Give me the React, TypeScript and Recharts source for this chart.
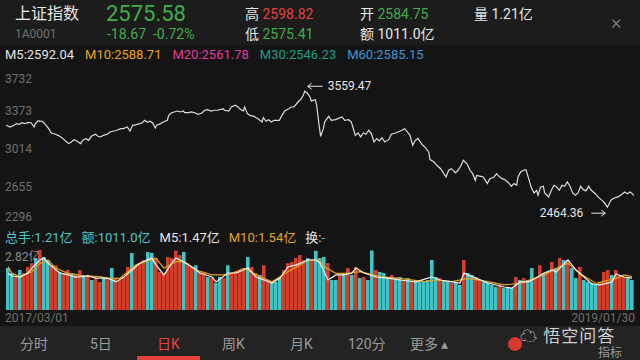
import React from "react";
import { Bar, Cell, ComposedChart, Line, LineChart, ReferenceDot, XAxis, YAxis } from "recharts";

// 上证指数 daily close, 2017/03/01 – 2019/01/30 (trading-day index, close)
const priceDay = [
  0, 3, 6, 8, 10, 12, 14, 17, 19, 21, 22, 24, 27, 29, 32, 34, 37, 39, 42, 44,
  47, 49, 51, 53, 56, 58, 60, 62, 64, 67, 69, 71, 73, 76, 78, 81, 83, 86, 88, 91,
  93, 95, 98, 100, 102, 104, 106, 108, 110, 112, 113, 116, 118, 121, 122, 124, 126, 129, 131, 133,
  134, 137, 139, 142, 144, 147, 149, 151, 154, 156, 159, 161, 163, 164, 167, 169, 172, 174, 176, 178,
  179, 181, 183, 186, 188, 190, 192, 193, 195, 197, 199, 201, 203, 205, 207, 209, 212, 214, 216, 219,
  221, 223, 224, 226, 228, 229, 232, 233, 235, 236, 238, 239, 242, 244, 247, 249, 252, 254, 257, 259,
  262, 264, 266, 268, 270, 272, 274, 276, 278, 280, 282, 284, 287, 289, 292, 294, 297, 299, 301, 303,
  305, 307, 309, 312, 314, 317, 318, 321, 323, 326, 328, 330, 332, 334, 337, 339, 341, 343, 346, 348,
  350, 352, 353, 356, 358, 361, 363, 366, 368, 369, 372, 374, 377, 379, 381, 383, 384, 386, 388, 390,
  392, 394, 396, 398, 399, 401, 403, 404, 407, 409, 411, 413, 415, 417, 419, 421, 423, 425, 427, 429,
  431, 433, 435, 437, 439, 442, 444, 447, 449, 451, 453, 454, 457, 459, 462, 464, 466, 468, 469, 471,
];
const priceClose = [
  3238, 3222, 3238, 3254, 3247, 3263, 3254, 3266, 3260, 3222, 3254, 3279, 3276, 3254, 3206, 3165, 3153, 3143, 3121, 3096,
  3065, 3080, 3102, 3090, 3065, 3102, 3112, 3096, 3134, 3153, 3134, 3128, 3143, 3153, 3175, 3184, 3191, 3206, 3206, 3222,
  3184, 3238, 3244, 3254, 3260, 3285, 3266, 3276, 3260, 3213, 3238, 3254, 3269, 3285, 3332, 3354, 3364, 3373, 3364, 3373,
  3357, 3357, 3364, 3354, 3342, 3354, 3380, 3386, 3373, 3380, 3380, 3389, 3392, 3380, 3373, 3411, 3427, 3411, 3386, 3373,
  3411, 3348, 3332, 3323, 3307, 3291, 3269, 3310, 3276, 3291, 3269, 3285, 3285, 3285, 3332, 3373, 3395, 3411, 3411, 3458,
  3483, 3521, 3559.47, 3543, 3505, 3468, 3480, 3427, 3222, 3134, 3206, 3269, 3323, 3285, 3291, 3301, 3317, 3285, 3291, 3269,
  3143, 3165, 3128, 3165, 3153, 3191, 3159, 3080, 3112, 3090, 3121, 3080, 3102, 3153, 3165, 3175, 3191, 3206, 3175, 3143,
  3049, 3096, 3112, 3058, 3033, 2986, 2914, 2891, 2860, 2828, 2788, 2750, 2813, 2828, 2788, 2813, 2851, 2907, 2869, 2813,
  2781, 2718, 2765, 2756, 2750, 2687, 2734, 2750, 2781, 2765, 2734, 2725, 2693, 2662, 2687, 2671, 2750, 2797, 2813, 2819,
  2734, 2649, 2599, 2624, 2577, 2655, 2662, 2599, 2561, 2624, 2671, 2655, 2624, 2671, 2662, 2703, 2662, 2599, 2577, 2599,
  2662, 2630, 2618, 2662, 2624, 2592, 2561, 2529, 2504, 2464.36, 2514, 2536, 2555, 2561, 2586, 2608, 2592, 2608, 2599, 2575.58,
];
const priceTicks = [3732, 3373, 3014, 2655, 2296];

// 成交量 (亿手), one bar per slot, r = 涨 / g = 跌
const volume = [
  1.97, 1.74, 1.55, 1.88, 1.74, 2.02, 2.2, 2.44, 2.82, 2.49, 2.35, 2.1, 2.1, 1.79, 1.74, 1.88, 1.74, 1.65, 1.88, 1.55, 1.65, 1.41, 1.5, 1.32, 1.55, 1.5,
  1.97, 1.5, 1.41, 1.55, 2.02, 2.68, 2.1, 2.2, 2.35, 2.73, 2.68, 2.44, 1.79, 1.74, 2.49, 2.44, 2.79, 2.58, 2.73, 2.2, 2.02, 2.1, 1.79, 1.74, 1.55, 1.5,
  1.27, 1.55, 1.5, 2.1, 1.74, 1.79, 1.88, 1.97, 2.49, 2.02, 1.74, 1.65, 2.1, 1.41, 1.27, 1.32, 1.55, 1.88, 2.2, 2.26, 2.44, 2.58, 2.35, 2.44, 2.35, 2.78,
  2.44, 2.49, 2.2, 1.41, 1.41, 1.65, 1.74, 1.97, 1.65, 2.02, 1.5, 1.55, 1.41, 2.8, 1.88, 1.79, 1.74, 1.55, 1.65, 1.5, 1.55, 1.41, 1.5, 1.32, 1.41, 1.32,
  1.32, 1.41, 2.35, 1.55, 1.5, 1.41, 1.32, 1.27, 1.32, 1.18, 2.35, 1.74, 1.65, 1.55, 1.41, 1.32, 1.27, 1.18, 1.08, 1.18, 1.03, 1.08, 1.03, 1.55, 1.41, 1.5,
  1.41, 1.97, 1.5, 2.1, 1.74, 1.79, 2.26, 1.97, 2.44, 2.35, 2.35, 1.97, 1.5, 2.02, 1.41, 1.32, 1.27, 1.18, 1.32, 1.79, 1.88, 1.65, 1.88, 1.65, 1.55, 1.5, 1.41,
];
const volumeSide =
  "ggrgrrrgrggrrgrrgrrgrgrrgr" +
  "grrrrgrrrggrrrrrrrgrrgrrgr" +
  "ggrgrrrrgrrgrrgggrrrrrrgrg" +
  "ggrggrgrgrgrggrgggrggrgrgg" +
  "ggggrggrggrggrrggggrgggrgr" +
  "ggrrgrrgrgrggrggggrrrgrrrgg";

// volume moving averages read at [bar slot, value]
const volM5: [number, number][] = [
  [0, 1.72], [1, 1.61], [3, 1.55], [5, 1.74], [6, 1.97], [8, 2.35], [9, 2.44], [10, 2.21], [12, 1.88], [13, 1.74],
  [15, 1.65], [17, 1.55], [20, 1.6], [22, 1.5], [25, 1.5], [27, 1.32], [29, 1.55], [31, 1.88], [33, 2.21], [36, 2.44],
  [37, 2.12], [39, 1.65], [41, 2.21], [42, 2.44], [44, 2.26], [46, 2.02], [48, 1.74], [51, 1.55], [52, 1.32], [55, 1.74],
  [57, 1.74], [60, 1.97], [62, 1.55], [64, 1.41], [66, 1.27], [68, 1.5], [70, 2.02], [72, 2.12], [75, 2.35], [77, 2.35],
  [78, 2.21], [80, 1.41], [82, 1.65], [84, 1.65], [86, 1.74], [87, 1.97], [89, 1.74], [92, 1.55], [95, 1.5], [98, 1.41],
  [102, 1.32], [105, 1.5], [106, 1.55], [108, 1.41], [111, 1.32], [113, 1.27], [114, 1.74], [115, 1.65], [117, 1.5], [120, 1.27],
  [124, 1.08], [126, 1.03], [128, 1.32], [130, 1.32], [132, 1.5], [134, 1.74], [136, 1.88], [137, 1.79], [140, 2.35], [142, 1.88],
  [144, 1.55], [146, 1.22], [148, 1.18], [151, 1.32], [152, 1.69], [154, 1.55], [156, 1.5],
];
const volM10: [number, number][] = [
  [0, 2.04], [1, 1.72], [3, 1.57], [6, 1.8], [8, 2.19], [10, 2.35], [12, 1.96], [15, 1.72], [19, 1.61], [23, 1.57],
  [25, 1.49], [28, 1.49], [32, 2.12], [37, 2.43], [39, 1.96], [42, 2.27], [44, 2.27], [47, 1.88], [51, 1.65], [55, 1.65],
  [59, 1.96], [63, 1.57], [66, 1.33], [70, 1.8], [73, 2.12], [75, 2.35], [78, 2.35], [79, 2.04], [82, 1.72], [85, 1.72],
  [88, 1.8], [93, 1.57], [98, 1.49], [104, 1.33], [107, 1.41], [111, 1.33], [115, 1.49], [120, 1.33], [124, 1.18], [128, 1.25],
  [134, 1.65], [138, 2.04], [140, 2.19], [143, 1.72], [147, 1.25], [152, 1.49], [154, 1.65], [156, 1.57],
];

const C = {
  bg: "#141414",
  head: "#1c1c1c",
  tab: "#232323",
  white: "#e6e6e6",
  gray: "#707070",
  green: "#3fae49",
  red: "#e5423a",
  orange: "#e8a21c",
  magenta: "#e03c9e",
  teal: "#1f9e86",
  blue: "#3b97d6",
  cyan: "#4cc6c8",
  up: "#d2402d",
  down: "#44c3c5",
};

const priceData = priceDay.map((t, i) => ({ t, close: priceClose[i] }));

const volData = volume.map((v, i) => ({ i, v, side: volumeSide[i], m5: null as number | null, m10: null as number | null }));
volM5.forEach(([i, v]) => (volData[i].m5 = v));
volM10.forEach(([i, v]) => (volData[i].m10 = v));

const FONT = "Roboto, 'Noto Sans CJK SC', sans-serif";

function PriceTick(props: any) {
  const { y, payload } = props;
  const shift = payload.value === priceTicks[0] ? 6 : payload.value === priceTicks[4] ? -8 : 0;
  return (
    <text x={5} y={y + shift} dy={4} textAnchor="start" fill={C.gray} fontSize={12} fontFamily={FONT}>
      {payload.value}
    </text>
  );
}

function PeakMark(props: any) {
  const { cx, cy } = props;
  const y = cy - 5;
  return (
    <g>
      <line x1={cx + 3} y1={y} x2={cx + 18} y2={y} stroke={C.white} strokeWidth={1} />
      <path d={`M${cx + 7},${y - 3} L${cx + 3},${y} L${cx + 7},${y + 3}`} fill="none" stroke={C.white} strokeWidth={1} />
      <text x={cx + 23} y={y + 4} fill={C.white} fontSize={12} fontFamily={FONT}>
        3559.47
      </text>
    </g>
  );
}

function LowMark(props: any) {
  const { cx, cy } = props;
  const y = cy + 6;
  return (
    <g>
      <text x={cx - 24} y={y + 4} textAnchor="end" fill={C.white} fontSize={12} fontFamily={FONT}>
        2464.36
      </text>
      <line x1={cx - 16} y1={y} x2={cx - 2} y2={y} stroke={C.white} strokeWidth={1} />
      <path d={`M${cx - 6},${y - 3} L${cx - 2},${y} L${cx - 6},${y + 3}`} fill="none" stroke={C.white} strokeWidth={1} />
    </g>
  );
}

const abs = (left: number, top: number, extra: React.CSSProperties = {}): React.CSSProperties => ({
  position: "absolute",
  left,
  top,
  whiteSpace: "nowrap",
  lineHeight: 1,
  ...extra,
});

export default function App() {
  return (
    <div
      style={{
        position: "fixed",
        left: 0,
        top: 0,
        width: 640,
        height: 360,
        background: C.bg,
        overflow: "hidden",
        fontFamily: FONT,
        color: C.white,
      }}
    >
      {/* quote header */}
      <div style={abs(0, 0, { width: 640, height: 45, background: C.head })} />
      <div style={abs(15, 6, { fontSize: 16 })}>上证指数</div>
      <div style={abs(15, 28, { fontSize: 12, color: C.gray })}>1A0001</div>
      <div style={abs(106, 3, { fontSize: 22, color: C.green })}>2575.58</div>
      <div style={abs(107, 27, { fontSize: 14, color: C.green })}>-18.67&nbsp;&nbsp;-0.72%</div>
      <div style={abs(245, 7, { fontSize: 14 })}>
        高 <span style={{ color: C.red }}>2598.82</span>
      </div>
      <div style={abs(245, 27, { fontSize: 14 })}>
        低 <span style={{ color: C.green }}>2575.41</span>
      </div>
      <div style={abs(360, 7, { fontSize: 14 })}>
        开 <span style={{ color: C.green }}>2584.75</span>
      </div>
      <div style={abs(360, 27, { fontSize: 14 })}>额 1011.0亿</div>
      <div style={abs(474, 7, { fontSize: 14 })}>量 1.21亿</div>
      <div style={abs(611, 12, { fontSize: 20, color: "#8a8a8a", fontWeight: 300 })}>×</div>

      {/* MA legend */}
      <div style={abs(5, 48, { fontSize: 13, display: "flex", gap: 11 })}>
        <span>M5:2592.04</span>
        <span style={{ color: C.orange }}>M10:2588.71</span>
        <span style={{ color: C.magenta }}>M20:2561.78</span>
        <span style={{ color: C.teal }}>M30:2546.23</span>
        <span style={{ color: C.blue }}>M60:2585.15</span>
      </div>

      {/* price line */}
      <div style={abs(0, 60)}>
        <LineChart width={640} height={170} data={priceData} margin={{ top: 13, right: 6, bottom: 5, left: 6 }}>
          <XAxis dataKey="t" type="number" domain={[0, 471]} hide />
          <YAxis
            domain={[2296, 3732]}
            ticks={priceTicks}
            interval={0}
            mirror
            axisLine={false}
            tickLine={false}
            tick={PriceTick}
            allowDataOverflow
          />
          <Line dataKey="close" stroke="#dcdcdc" strokeWidth={1.2} dot={false} isAnimationActive={false} />
          <ReferenceDot x={224} y={3559.47} r={0} shape={<PeakMark />} />
          <ReferenceDot x={451} y={2464.36} r={0} shape={<LowMark />} />
        </LineChart>
      </div>

      {/* volume legend */}
      <div style={abs(5, 231, { fontSize: 13, display: "flex", gap: 9 })}>
        <span style={{ color: C.cyan }}>总手:1.21亿</span>
        <span style={{ color: C.cyan }}>额:1011.0亿</span>
        <span>M5:1.47亿</span>
        <span style={{ color: C.orange }}>M10:1.54亿</span>
        <span>
          换:<span style={{ color: C.cyan }}>-</span>
        </span>
      </div>

      {/* volume bars */}
      <div style={abs(0, 245)}>
        <ComposedChart width={640} height={70} data={volData} margin={{ top: 5, right: 6, bottom: 5, left: 6 }}>
          <XAxis dataKey="i" hide />
          <YAxis domain={[0, 2.82]} hide allowDataOverflow />
          <Bar dataKey="v" barSize={3.6} isAnimationActive={false}>
            {volData.map((d) => (
              <Cell key={d.i} fill={d.side === "r" ? C.up : C.down} />
            ))}
          </Bar>
          <Line dataKey="m10" stroke={C.orange} strokeWidth={1.2} dot={false} connectNulls isAnimationActive={false} />
          <Line dataKey="m5" stroke="#f2f2f2" strokeWidth={1.2} dot={false} connectNulls isAnimationActive={false} />
        </ComposedChart>
      </div>
      <div style={abs(5, 251, { fontSize: 12, color: "#8c8c8c" })}>2.82亿</div>
      <div style={abs(5, 312, { fontSize: 12, color: C.gray })}>2017/03/01</div>
      <div style={abs(635, 312, { fontSize: 12, color: C.gray, transform: "translateX(-100%)" })}>2019/01/30</div>

      {/* period tabs */}
      <div style={abs(0, 326, { width: 640, height: 34, background: C.tab })} />
      {[
        ["分时", 20],
        ["5日", 90],
        ["日K", 157],
        ["周K", 222],
        ["月K", 290],
        ["120分", 348],
        ["更多 ▴", 410],
      ].map(([label, left]) => (
        <div
          key={label as string}
          style={abs(left as number, 337, { fontSize: 14, color: label === "日K" ? C.red : "#9a9a9a" })}
        >
          {label}
        </div>
      ))}
      <div style={abs(137, 356, { width: 63, height: 4, background: C.red })} />
      <div style={abs(508, 337, { width: 14, height: 14, borderRadius: 7, background: "#d83a30" })} />
      <div style={abs(598, 347, { fontSize: 12, color: "#9a9a9a" })}>指标</div>
      <div style={abs(520, 328, { fontSize: 17, color: "rgba(240,240,240,0.85)", letterSpacing: 1 })}>☁ 悟空问答</div>
    </div>
  );
}
